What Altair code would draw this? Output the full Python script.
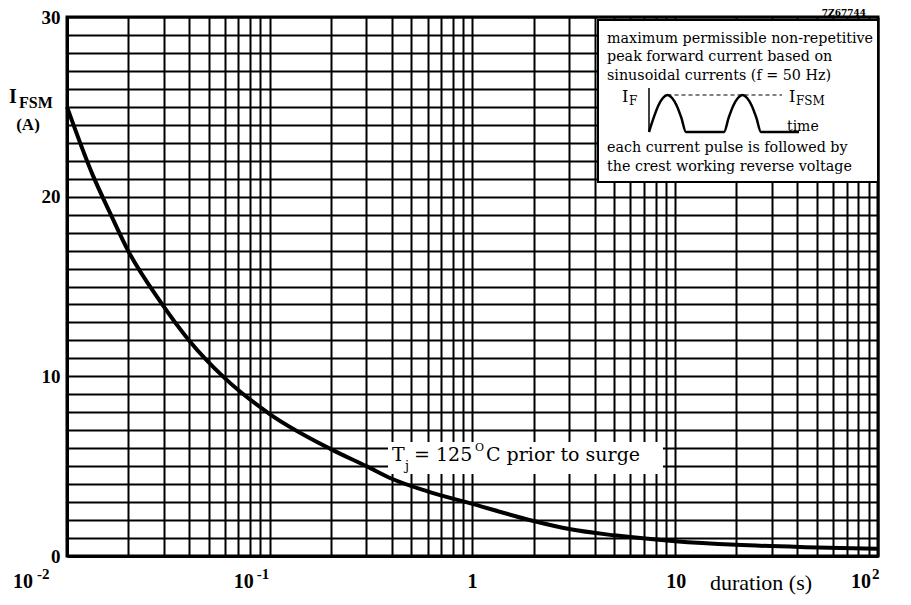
import altair as alt
import pandas as pd

# ---- data ----
duration_s = [0.01, 0.0134, 0.0163, 0.02, 0.0287, 0.04, 0.06, 0.1, 0.2, 0.3, 0.4,
              0.6, 1, 2, 3, 5, 10, 20, 50, 100]
ifsm_a = [25.0, 21.2, 19.1, 17.0, 14.2, 12.0, 9.9, 7.9, 5.95, 5.0, 4.3,
          3.6, 2.9, 1.95, 1.5, 1.15, 0.82, 0.62, 0.48, 0.4]

x_grid = [m * 10.0 ** e for e in (-2, -1, 0, 1) for m in range(1, 10)] + [100]
y_grid = list(range(0, 31))

decades = [0.01, 0.1, 1, 10, 100]
decade_base = ["10", "10", "1", "10", "10"]
decade_exp = ["-2", "-1", "", "", "2"]

inset_lines = ["maximum permissible non-repetitive",
               "peak forward current based on",
               "sinusoidal currents (f = 50 Hz)",
               "each current pulse is followed by",
               "the crest working reverse voltage"]

# schematic pulse icon (local units: x in px from icon axis, amplitude 0..1)
wave_x = [0, 4.6, 9.25, 13.9, 18.5, 23.1, 27.75, 32.4, 37,
          75, 79.6, 84.25, 88.9, 93.5, 98.1, 102.75, 107.4, 112, 150]
wave_amp = [0, 0.38, 0.71, 0.92, 1, 0.92, 0.71, 0.38, 0,
            0, 0.38, 0.71, 0.92, 1, 0.92, 0.71, 0.38, 0, 0]

SERIF = "DejaVu Serif"
NUM = "Liberation Serif"

df_curve = pd.DataFrame({"duration": duration_s, "ifsm": ifsm_a})
dummy = pd.DataFrame({"k": [0]})

xscale = alt.Scale(type="log", domain=[0.01, 100], nice=False)
yscale = alt.Scale(domain=[0, 30], nice=False, zero=False)


def txt(s, x, y, size, font=SERIF, weight="normal", align="left", baseline="middle"):
    return alt.Chart(dummy).mark_text(
        text=s, fontSize=size, font=font, fontWeight=weight, align=align,
        baseline=baseline, color="black"
    ).encode(x=alt.value(x), y=alt.value(y))


grid_axis_common = dict(ticks=False, grid=True, gridColor="black", gridWidth=2,
                        gridOpacity=1, domainColor="black", domainWidth=3, title=None)

curve = alt.Chart(df_curve).mark_line(color="black", strokeWidth=4, interpolate="monotone").encode(
    x=alt.X("duration:Q", scale=xscale,
            axis=alt.Axis(values=x_grid, labels=False, **grid_axis_common)),
    y=alt.Y("ifsm:Q", scale=yscale,
            axis=alt.Axis(values=y_grid,
                          labelExpr="datum.value % 10 == 0 ? datum.label : ''",
                          labelOverlap=False, labelFont=NUM, labelFontSize=19,
                          labelFontWeight="bold", labelColor="black", labelPadding=7,
                          **grid_axis_common)),
)

# white boxes
inset_box = alt.Chart(dummy).mark_rect(fill="white", stroke="black", strokeWidth=2).encode(
    x=alt.value(531), x2=alt.value(811), y=alt.value(3), y2=alt.value(165))
label_bg = alt.Chart(dummy).mark_rect(fill="white").encode(
    x=alt.value(321), x2=alt.value(596), y=alt.value(425), y2=alt.value(457))

# x tick labels (10 with exponent)
base_dx = [-44, -26, 0, 1, -17]
exp_dx = [-30, -13, 0, 0, -6]
xlabel_layers = []
for d, b, e, bdx, edx in zip(decades, decade_base, decade_exp, base_dx, exp_dx):
    dfl = pd.DataFrame({"d": [d], "b": [b], "e": [e]})
    xlabel_layers.append(
        alt.Chart(dfl).mark_text(font=NUM, fontSize=20, fontWeight="bold", align="center",
                                 baseline="middle", dx=bdx, color="black").encode(
            x=alt.X("d:Q", scale=xscale), y=alt.value(565), text="b:N"))
    if e:
        xlabel_layers.append(
            alt.Chart(dfl).mark_text(font=NUM, fontSize=15, fontWeight="bold", align="left",
                                     baseline="middle", dx=edx, color="black").encode(
                x=alt.X("d:Q", scale=xscale), y=alt.value(557), text="e:N"))

texts = [
    # y title
    txt("I", -58, 80, 20, font=NUM, weight="bold"),
    txt("FSM", -48, 86, 16, font=NUM, weight="bold"),
    txt("(A)", -39, 108, 17, font=NUM, weight="bold", align="center"),
    # x title
    txt("duration (s)", 643, 566, 22, font=NUM),
    # code
    txt("7Z67744", 799, -4, 9, font=SERIF, weight="bold", align="right"),
    # curve label
    txt("T", 325, 438, 19),
    txt("j", 338, 449, 13),
    txt("= 125", 347, 438, 19),
    txt("O", 408, 431, 11),
    txt("C prior to surge", 419, 438, 19),
    # inset icon labels
    txt("I", 555, 80, 16),
    txt("F", 562, 84, 12),
    txt("I", 722, 80, 16),
    txt("FSM", 729, 84, 12),
    txt("time", 720, 110, 14),
]
for s, yy in zip(inset_lines, [22, 40, 59, 131, 150]):
    texts.append(txt(s, 540, yy, 14.3))

main = alt.layer(inset_box, label_bg, curve, *xlabel_layers, *texts)

# pulse icon with its own local scales
wx = alt.Scale(domain=[0, 150], range=[582, 732])
wy = alt.Scale(domain=[0, 1], range=[115, 78])
df_wave = pd.DataFrame({"wx": wave_x, "wa": wave_amp})
df_waxis = pd.DataFrame({"wx": [0, 0], "wa": [0, 1.19]})
df_dash = pd.DataFrame({"wx": [18.5, 133], "wa": [1, 1]})

wave = alt.Chart(df_wave).mark_line(color="black", strokeWidth=2.5, interpolate="monotone").encode(
    x=alt.X("wx:Q", scale=wx, axis=None), y=alt.Y("wa:Q", scale=wy, axis=None))
waxis = alt.Chart(df_waxis).mark_line(color="black", strokeWidth=1.5).encode(
    x=alt.X("wx:Q", scale=wx, axis=None), y=alt.Y("wa:Q", scale=wy, axis=None))
wdash = alt.Chart(df_dash).mark_line(color="black", strokeWidth=1.2, strokeDash=[4, 3]).encode(
    x=alt.X("wx:Q", scale=wx, axis=None), y=alt.Y("wa:Q", scale=wy, axis=None))
icon = alt.layer(waxis, wdash, wave)

chart = alt.layer(main, icon).resolve_scale(x="independent", y="independent").properties(
    width=811, height=539,
    autosize=alt.AutoSizeParams(type="none"),
    padding={"left": 59, "top": 9, "right": 25, "bottom": 41},
    background="white",
).configure_view(stroke="black", strokeWidth=3)

chart.save("out.html", embed_options={"renderer": "svg", "actions": False})
